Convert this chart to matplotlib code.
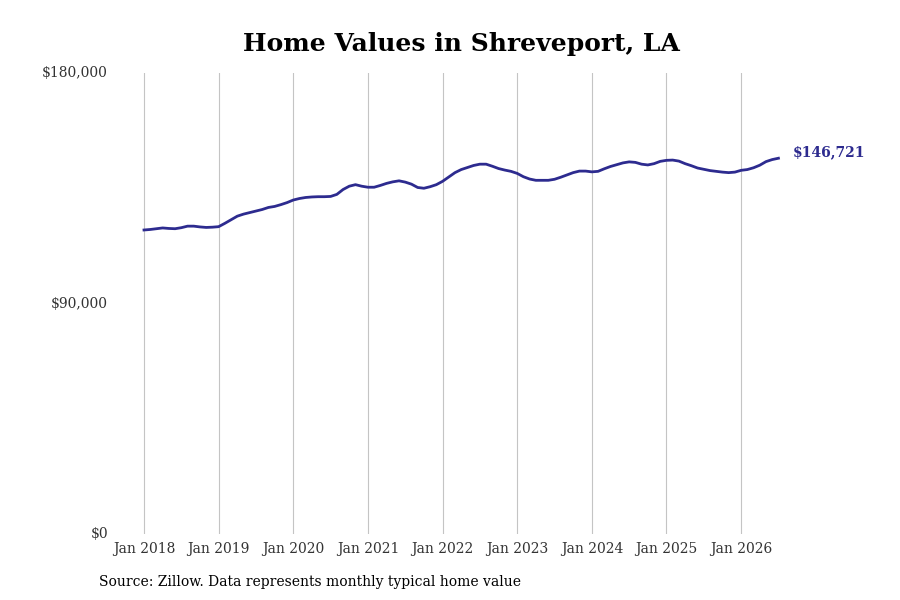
import matplotlib
matplotlib.use("Agg")
from matplotlib import pyplot as plt

# monthly typical home value, Jan 2018 .. Jul 2026 (thousands of dollars)
values_2018 = [118.7, 118.9, 119.2, 119.5, 119.3, 119.2, 119.6, 120.2, 120.2, 119.9, 119.7, 119.8]
values_2019 = [120.0, 121.3, 122.7, 124.1, 124.9, 125.5, 126.1, 126.7, 127.5, 127.9, 128.6, 129.4]
values_2020 = [130.4, 131.0, 131.4, 131.6, 131.7, 131.7, 131.8, 132.6, 134.5, 135.8, 136.4, 135.8]
values_2021 = [135.4, 135.4, 136.1, 136.9, 137.5, 137.9, 137.4, 136.6, 135.3, 135.0, 135.6, 136.4]
values_2022 = [137.7, 139.4, 141.1, 142.3, 143.1, 143.9, 144.4, 144.4, 143.6, 142.7, 142.1, 141.6]
values_2023 = [140.8, 139.5, 138.6, 138.1, 138.1, 138.1, 138.5, 139.3, 140.2, 141.1, 141.7, 141.7]
values_2024 = [141.4, 141.6, 142.6, 143.5, 144.2, 144.9, 145.3, 145.1, 144.4, 144.1, 144.6, 145.5]
values_2025 = [145.9, 146.0, 145.6, 144.6, 143.8, 142.9, 142.4, 141.9, 141.6, 141.3, 141.1, 141.3]
values_2026 = [142.0, 142.3, 143.0, 144.0, 145.4, 146.2, 146.721]

years = [2018, 2019, 2020, 2021, 2022, 2023, 2024, 2025, 2026]
tick_labels = ["Jan %d" % y for y in years]
y_ticks = [0, 90000, 180000]
y_tick_labels = ["$0", "$90,000", "$180,000"]
line_color = "#2d2b8f"

values = (values_2018 + values_2019 + values_2020 + values_2021 + values_2022
          + values_2023 + values_2024 + values_2025 + values_2026)
values = [v * 1000 for v in values]
months = list(range(len(values)))

plt.rcParams['font.family'] = ['DejaVu Serif']

fig = plt.figure(figsize=(9, 6), dpi=100)
ax = fig.add_axes([115 / 900, 1 - 534 / 600, 692 / 900, 461 / 600])

ax.plot(months, values, color=line_color, linewidth=2)
ax.annotate("${:,.0f}".format(values[-1]), xy=(months[-1], values[-1]),
            xytext=(10, 4), textcoords="offset points", va="center", ha="left",
            fontsize=10, fontweight="bold", color=line_color)

ax.set_ylim(0, 180000)
ax.set_xlim(-(144 - 115) / 6.22, (807 - 144) / 6.22)
ax.set_xticks([12 * i for i in range(len(years))])
ax.set_xticklabels(tick_labels, fontsize=10, color="#333333")
ax.set_yticks(y_ticks)
ax.set_yticklabels(y_tick_labels, fontsize=10, color="#333333")
ax.tick_params(axis="x", length=0, pad=6)
ax.tick_params(axis="y", length=0, pad=5)
for lab in ax.get_yticklabels():
    lab.set_verticalalignment("center")

ax.grid(axis="x", color="#c4c4c4", linewidth=0.8)
ax.grid(axis="y", visible=False)
for side in ["top", "right", "left", "bottom"]:
    ax.spines[side].set_visible(False)

fig.text(461 / 900, 1 - 44 / 600, "Home Values in Shreveport, LA", ha="center", va="center",
         fontsize=18, fontweight="bold")
fig.text(99 / 900, 1 - 582 / 600, "Source: Zillow. Data represents monthly typical home value",
         ha="left", va="center", fontsize=10)

fig.savefig("out.png", dpi=100)
